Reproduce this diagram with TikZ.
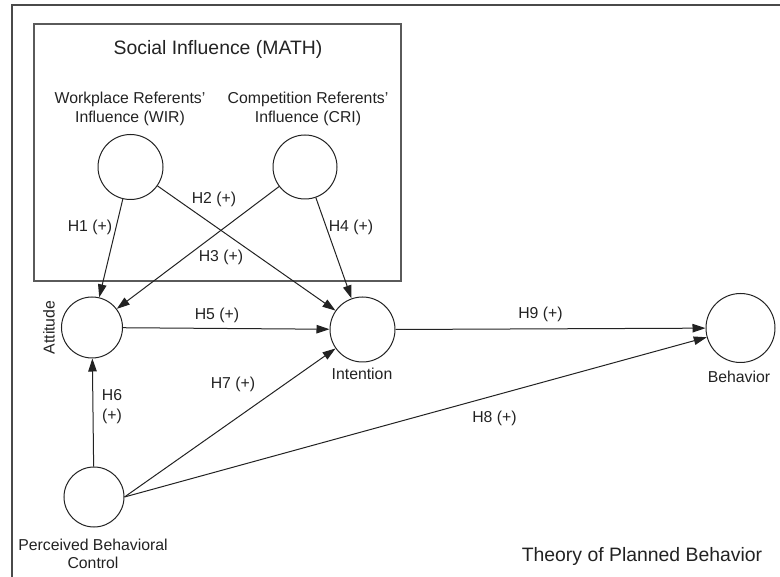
\documentclass[tikz,border=0pt]{standalone}
\usepackage{fontspec}
\setmainfont{Liberation Sans}
\usetikzlibrary{arrows.meta}
\definecolor{ink}{HTML}{222222}
\definecolor{framec}{HTML}{4A4A4A}
\definecolor{boxc}{HTML}{5A5A5A}
\tikzset{
  lv/.style={circle, draw=ink, line width=1pt, inner sep=0pt},
  lbl/.style={text=ink, font=\fontsize{15.8}{18.5}\selectfont, inner sep=0pt, align=center},
  big/.style={text=ink, font=\fontsize{19.4}{22}\selectfont, inner sep=0pt},
  conn/.style={draw=ink, line width=1pt, -{Triangle[length=13pt,width=8.5pt]}},
}
\begin{document}
\begin{tikzpicture}[x=1pt,y=-1pt]
\useasboundingbox (0,0) rectangle (780,577);
% outer frame (top and left only)
\coordinate (fTL) at (12,5);
\coordinate (fTR) at (780,5);
\coordinate (fBL) at (12,577);
\draw[framec, line width=1.6pt] (fTR) -- (fTL) -- (fBL);
% social influence box
\node[draw=boxc, line width=1.3pt, minimum width=367pt, minimum height=257pt, inner sep=0pt] (sibox) at (217.5,152.5) {};
\node[big] (title) at (218,49) {Social Influence (MATH)};
\node[lbl] (wirl) at (130,109) {Workplace Referents'\\Influence (WIR)};
\node[lbl] (cril) at (308,109) {Competition Referents'\\Influence (CRI)};
% latent variables
\node[lv, minimum size=65pt] (wir) at (130.5,167) {};
\node[lv, minimum size=64pt] (cri) at (305,167) {};
\node[lv, minimum size=61pt] (att) at (92,327.5) {};
\node[lv, minimum size=65pt] (int) at (362.5,329.5) {};
\node[lv, minimum size=60pt] (pbc) at (94,497) {};
\node[lv, minimum size=69pt] (beh) at (740.5,328) {};
% variable labels
\node[lbl, rotate=90] (attl) at (49,327.5) {Attitude};
\node[lbl] (intl) at (362,374) {Intention};
\node[lbl] (behl) at (739,377) {Behavior};
\node[lbl] (pbcl) at (93,554) {Perceived Behavioral\\Control};
\node[big] (tpb) at (642,556) {Theory of Planned Behavior};
% connectors
\draw[conn] (wir) -- (att);
\draw[conn] (wir) -- (int);
\draw[conn] (cri) -- (att);
\draw[conn] (cri) -- (int);
\draw[conn] (att) -- (int);
\draw[conn] (pbc) -- (att);
\draw[conn] (pbc.east) -- (int);
\draw[conn] (pbc.east) -- (beh);
\draw[conn] (int.east) -- (beh);
% hypothesis labels
\node[lbl] (h1) at (90,227) {H1 (+)};
\node[lbl] (h2) at (214,199) {H2 (+)};
\node[lbl] (h3) at (221,257) {H3 (+)};
\node[lbl] (h4) at (351,227) {H4 (+)};
\node[lbl] (h5) at (217,315) {H5 (+)};
\node[lbl] (h6) at (112,407) {H6\\[1.5pt](+)};
\node[lbl] (h7) at (233,384) {H7 (+)};
\node[lbl] (h8) at (494.5,418) {H8 (+)};
\node[lbl] (h9) at (540.5,314) {H9 (+)};
\end{tikzpicture}
\end{document}
